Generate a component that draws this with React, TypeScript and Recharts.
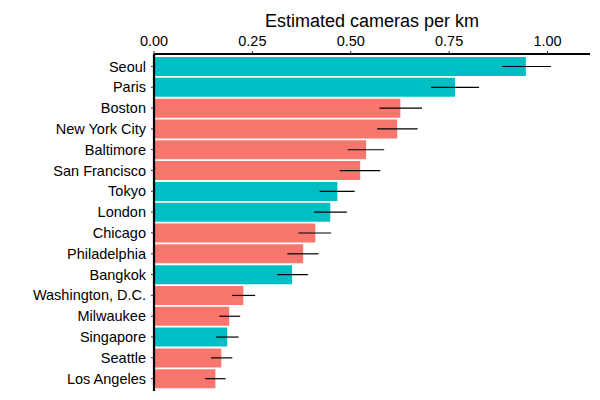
import React from "react";
import { BarChart, Bar, XAxis, YAxis, ErrorBar, Cell } from "recharts";

const cities = [
  "Seoul", "Paris", "Boston", "New York City", "Baltimore", "San Francisco",
  "Tokyo", "London", "Chicago", "Philadelphia", "Bangkok", "Washington, D.C.",
  "Milwaukee", "Singapore", "Seattle", "Los Angeles",
];
const estimate = [0.945, 0.765, 0.626, 0.618, 0.539, 0.524, 0.466, 0.448, 0.41, 0.379, 0.351, 0.227, 0.191, 0.186, 0.171, 0.156];
const lower = [0.884, 0.704, 0.573, 0.567, 0.492, 0.472, 0.421, 0.407, 0.367, 0.339, 0.313, 0.198, 0.166, 0.158, 0.145, 0.13];
const upper = [1.009, 0.826, 0.681, 0.67, 0.585, 0.575, 0.51, 0.49, 0.45, 0.418, 0.391, 0.257, 0.219, 0.215, 0.199, 0.182];
const isUS = [false, false, true, true, true, true, false, false, true, true, false, true, true, false, true, true];
const xTicks = [0, 0.25, 0.5, 0.75, 1];

const data = cities.map((c, i) => ({
  city: c,
  value: estimate[i],
  err: [estimate[i] - lower[i], upper[i] - estimate[i]],
  us: isUS[i],
}));

const font = "'Liberation Sans', Arial, sans-serif";

export default function App() {
  return (
    <div style={{ position: "absolute", left: 0, top: 0, width: 600, height: 400, background: "#fff" }}>
      <BarChart
        width={600}
        height={400}
        data={data}
        layout="vertical"
        margin={{ top: 14, right: 10, bottom: 9, left: 0 }}
        style={{ fontFamily: font }}
      >
        <XAxis
          type="number"
          orientation="top"
          domain={[0, 1.108]}
          ticks={xTicks}
          tickFormatter={(v: number) => v.toFixed(2)}
          height={40}
          tickSize={3}
          tickMargin={5}
          axisLine={{ stroke: "#000", strokeWidth: 2.2 }}
          tickLine={{ stroke: "#333", strokeWidth: 1 }}
          tick={{ fill: "#000", fontSize: 14.5, fontFamily: font }}
          allowDataOverflow
          label={{ value: "Estimated cameras per km", position: "insideTop", offset: 0, fill: "#000", fontSize: 18, fontFamily: font }}
        />
        <YAxis
          type="category"
          dataKey="city"
          width={154}
          tickSize={3}
          tickMargin={5}
          padding={{ top: 2, bottom: 2 }}
          axisLine={{ stroke: "#000", strokeWidth: 2.2 }}
          tickLine={{ stroke: "#333", strokeWidth: 1 }}
          tick={{ fill: "#000", fontSize: 14.5, fontFamily: font }}
          interval={0}
        />
        <Bar dataKey="value" barSize={19} isAnimationActive={false}>
          {data.map((d, i) => (
            <Cell key={i} fill={d.us ? "#F8766D" : "#00BFC4"} />
          ))}
          <ErrorBar dataKey="err" direction="x" width={0} stroke="#000" strokeWidth={1.2} />
        </Bar>
      </BarChart>
    </div>
  );
}
